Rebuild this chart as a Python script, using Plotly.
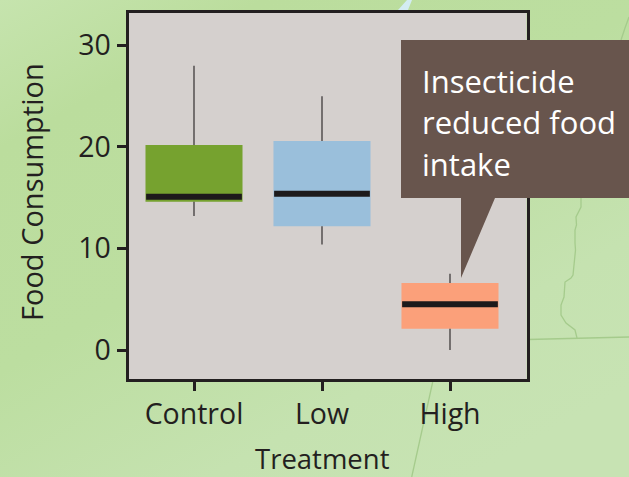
import base64
import plotly.graph_objects as go

categories = ["Control", "Low", "High"]
whisker_low = [13.2, 10.4, 0.0]
q1 = [14.6, 12.2, 2.1]
median = [15.1, 15.4, 4.5]
q3 = [20.2, 20.6, 6.6]
whisker_high = [28.0, 25.0, 7.5]
box_colors = ["#76a22f", "#9abfdb", "#fba07a"]
y_ticks = [0, 10, 20, 30]
callout_lines = ["Insecticide", "reduced food", "intake"]
positions = list(range(len(categories)))
half_width = 0.379

W, H = 629, 477
bg_svg = f'''<svg xmlns="http://www.w3.org/2000/svg" width="{W}" height="{H}" viewBox="0 0 {W} {H}">
<defs><linearGradient id="g" x1="0" y1="0" x2="0.75" y2="1">
<stop offset="0" stop-color="#c6e4ae"/><stop offset="0.2" stop-color="#bbdd9d"/>
<stop offset="0.5" stop-color="#bcdea0"/><stop offset="0.8" stop-color="#c5e2b0"/><stop offset="1" stop-color="#c7e3b3"/>
</linearGradient></defs>
<rect width="{W}" height="{H}" fill="url(#g)"/>
<path d="M398 10 L408 10 L412 0 L407 0 Z" fill="#d3ecf2"/>
<g fill="none" stroke="#a5cb8c" stroke-width="1.3">
<path d="M629 17 L625 28 L621 40"/>
<path d="M581 198 L581 207 L576 217 L576.5 225 L575 230 L575 243 L575.5 250 L573 275 L571 278 L565 282 L564 297 L561 305 L561 315 L566 323 L575 330 L577 338"/>
<path d="M528 339.5 L629 337"/>
<path d="M432.7 382 L411.7 477"/>
</g></svg>'''
bg_uri = "data:image/svg+xml;base64," + base64.b64encode(bg_svg.encode()).decode()

fig = go.Figure()
ink = "#231f20"

for i, name in enumerate(categories):
    fig.add_trace(go.Scatter(
        x=[positions[i], positions[i], None, positions[i], positions[i]],
        y=[whisker_low[i], q1[i], None, q3[i], whisker_high[i]],
        mode="lines", line=dict(color="#231f20", width=1.1),
        showlegend=False, hoverinfo="skip"))

fig.add_trace(go.Bar(
    x=positions, y=[b - a for a, b in zip(q1, q3)], base=q1,
    width=half_width * 2, marker=dict(color=box_colors, line=dict(width=0)),
    showlegend=False))

for i, name in enumerate(categories):
    fig.add_trace(go.Scatter(
        x=[positions[i] - half_width + 0.005, positions[i] + half_width - 0.005],
        y=[median[i], median[i]],
        mode="lines", line=dict(color="#1d1a1b", width=6),
        showlegend=False, hoverinfo="skip"))

callout_y = [81, 122, 164]
annotations = [
    dict(text=line, xref="paper", yref="paper",
         x=419.5 / W, y=1 - cy / H, xanchor="left", yanchor="middle", align="left", showarrow=False,
         font=dict(family="Open Sans", size=31, color="#ffffff"))
    for line, cy in zip(callout_lines, callout_y)
]
annotations += [
    dict(text="Food Consumption", xref="paper", yref="paper", x=31 / W, y=1 - 192 / H,
         textangle=-90, showarrow=False, xanchor="center", yanchor="middle",
         font=dict(family="Open Sans", size=29, color=ink)),
    dict(text="Treatment", xref="paper", yref="paper", x=322 / W, y=1 - 458 / H,
         showarrow=False, xanchor="center", yanchor="middle",
         font=dict(family="Open Sans", size=27.5, color=ink)),
]

# plot area inner edge: x 128.5..526.5, y 13..379 in page pixels
fig.update_layout(
    width=W, height=H,
    margin=dict(l=0, r=0, t=0, b=0, pad=0),
    autosize=False,
    paper_bgcolor="#c5e2b0",
    plot_bgcolor="rgba(0,0,0,0)",
    font=dict(family="Open Sans", size=28, color=ink),
    showlegend=False,
    images=[dict(source=bg_uri, xref="paper", yref="paper", x=0, y=1, sizex=1, sizey=1,
                 xanchor="left", yanchor="top", sizing="stretch", layer="below")],
    xaxis=dict(
        domain=[128.5 / W, 526.5 / W], range=[-0.5117, 2.5977],
        tickmode="array", tickvals=positions, ticktext=categories,
        ticks="outside", ticklen=9, tickwidth=2.5, tickcolor=ink,
        ticklabelstandoff=-1,
        showline=True, linecolor=ink, linewidth=3, mirror=True,
        showgrid=False, zeroline=False,
        tickfont=dict(family="Open Sans", size=28.5, color=ink),
    ),
    yaxis=dict(
        domain=[1 - 379 / H, 1 - 13 / H], range=[-2.857, 33.2],
        tickmode="array", tickvals=y_ticks,
        ticks="outside", ticklen=9, tickwidth=2.5, tickcolor=ink,
        showline=True, linecolor=ink, linewidth=3, mirror=True,
        showgrid=False, zeroline=False,
        tickfont=dict(family="Open Sans", size=28.5, color=ink),
    ),
    shapes=[
        dict(type="rect", xref="x domain", yref="y domain", x0=0, x1=1, y0=0, y1=1,
             layer="below", fillcolor="#d5d0ce", line=dict(width=0)),
        dict(type="path", xref="paper", yref="paper", layer="above",
             path=f"M {401/W} {1-40/H} L 1 {1-40/H} L 1 {1-198/H} L {495/W} {1-198/H} "
                  f"L {461/W} {1-278/H} L {461/W} {1-198/H} L {401/W} {1-198/H} Z",
             fillcolor="#68554d", line=dict(width=0)),
    ],
    annotations=annotations,
)
fig.write_html(
    "out.html",
    config={"displayModeBar": False},
    post_script="document.body.style.margin='0';document.documentElement.style.overflow='hidden';",
)
